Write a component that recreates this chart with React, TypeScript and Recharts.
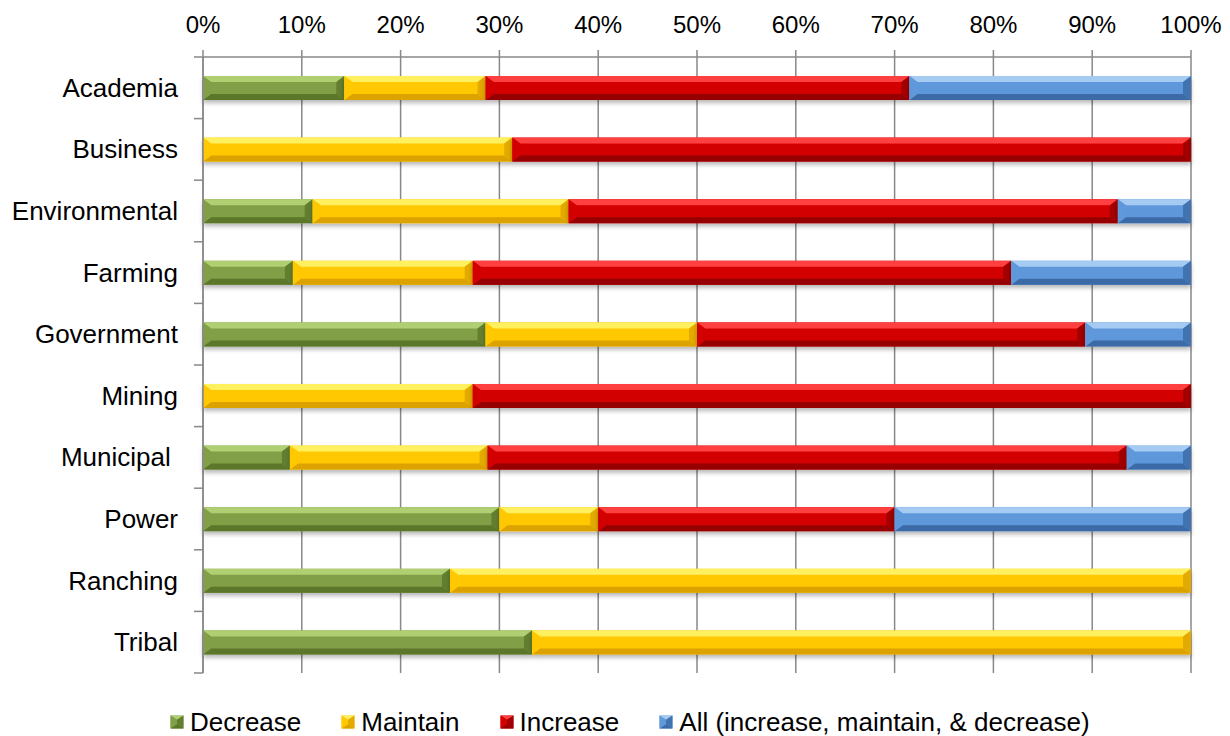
import React from "react";
import {
  BarChart,
  Bar,
  XAxis,
  YAxis,
  CartesianGrid,
} from "recharts";

const categories = [
  "Academia",
  "Business",
  "Environmental",
  "Farming",
  "Government",
  "Mining",
  "Municipal\u00a0",
  "Power",
  "Ranching",
  "Tribal",
];

// shares in percent
const decrease = [14.3, 0, 11.1, 9.1, 28.6, 0, 8.8, 30, 25, 33.3];
const maintain = [14.3, 31.3, 25.9, 18.2, 21.4, 27.3, 20.0, 10, 75, 66.7];
const increase = [42.9, 68.7, 55.6, 54.5, 39.3, 72.7, 64.7, 30, 0, 0];
const all = [28.5, 0, 7.4, 18.2, 10.7, 0, 6.5, 30, 0, 0];

const xTicks = [0, 0.1, 0.2, 0.3, 0.4, 0.5, 0.6, 0.7, 0.8, 0.9, 1];

const data = categories.map((name, i) => ({
  name,
  decrease: decrease[i],
  maintain: maintain[i],
  increase: increase[i],
  all: all[i],
}));

const palette = {
  decrease: { light: "#b0cf72", base: "#809f46", dark: "#5c7629", label: "Decrease" },
  maintain: { light: "#fff060", base: "#ffc800", dark: "#dca200", label: "Maintain" },
  increase: { light: "#ff4040", base: "#d20000", dark: "#960000", label: "Increase" },
  all: { light: "#a6cbf3", base: "#5f98da", dark: "#3b6aa6", label: "All (increase, maintain, & decrease)" },
};

type Colors = { light: string; base: string; dark: string };

const GRID = "#888888";
const FONT = "'Liberation Sans', Arial, sans-serif";
const CHART_W = 1230;
const CHART_H = 690;
const MARGIN = { top: 0, right: 39, left: 0, bottom: 17 };
const X_AXIS_H = 57;
const Y_AXIS_W = 203;
const LABEL_GAP = 25;
const PLOT_H = CHART_H - MARGIN.top - MARGIN.bottom - X_AXIS_H;
const BAND = PLOT_H / categories.length;

function Bevel({ x, y, width, height, c, shadow = true }: any) {
  if (!width || width <= 0) return null;
  const b = Math.min(6, height / 3);
  const bh = Math.min(8, width / 2);
  return (
    <g filter={shadow ? "url(#barShadow)" : undefined}>
      <rect x={x} y={y} width={width} height={height} fill={c.base} />
      <polygon
        points={`${x},${y} ${x + width},${y} ${x + width - bh},${y + b} ${x + bh},${y + b}`}
        fill={c.light}
      />
      <polygon
        points={`${x},${y + height} ${x + width},${y + height} ${x + width - bh},${y + height - b} ${x + bh},${y + height - b}`}
        fill={c.dark}
      />
      <polygon
        points={`${x},${y} ${x + bh},${y + b} ${x + bh},${y + height - b} ${x},${y + height}`}
        fill={c.base}
        opacity={0.85}
      />
      <polygon
        points={`${x + width},${y} ${x + width - bh},${y + b} ${x + width - bh},${y + height - b} ${x + width},${y + height}`}
        fill={c.dark}
        opacity={0.8}
      />
    </g>
  );
}

function CategoryTick({ x, y, payload, index }: any) {
  const axisX = x + LABEL_GAP;
  return (
    <g>
      <text
        x={x}
        y={y}
        textAnchor="end"
        dominantBaseline="central"
        fontSize={26}
        fontFamily={FONT}
        fill="#000"
      >
        {payload.value}
      </text>
      <line x1={axisX - 9} x2={axisX} y1={y - BAND / 2} y2={y - BAND / 2} stroke={GRID} strokeWidth={1.5} />
      {index === categories.length - 1 && (
        <line x1={axisX - 9} x2={axisX} y1={y + BAND / 2} y2={y + BAND / 2} stroke={GRID} strokeWidth={1.5} />
      )}
    </g>
  );
}

function LegendIcon({ c }: { c: Colors }) {
  return (
    <svg width={14} height={14} style={{ marginRight: 6 }}>
      <Bevel x={0.5} y={0.5} width={13} height={13} c={c} shadow={false} />
    </svg>
  );
}

export default function App() {
  const keys = Object.keys(palette) as (keyof typeof palette)[];
  return (
    <div style={{ position: "absolute", top: 0, left: 0, width: CHART_W, height: 736, background: "#fff", fontFamily: FONT }}>
      <svg width={0} height={0} style={{ position: "absolute" }}>
        <defs>
          <filter id="barShadow" x="-5%" y="-30%" width="110%" height="180%">
            <feDropShadow dx={0} dy={3} stdDeviation={2} floodColor="#000" floodOpacity={0.28} />
          </filter>
        </defs>
      </svg>
      <BarChart
        width={CHART_W}
        height={CHART_H}
        data={data}
        layout="vertical"
        stackOffset="expand"
        barSize={24}
        margin={MARGIN}
      >
        <CartesianGrid horizontal={false} stroke={GRID} strokeWidth={1.5} />
        <XAxis
          type="number"
          orientation="top"
          domain={[0, 1]}
          ticks={xTicks}
          height={X_AXIS_H}
          tickFormatter={(v) => `${Math.round(v * 100)}%`}
          tick={{ fontSize: 24, fill: "#000", fontFamily: FONT }}
          tickSize={7}
          tickMargin={17}
          axisLine={{ stroke: GRID, strokeWidth: 1.5 }}
          tickLine={{ stroke: GRID, strokeWidth: 1.5 }}
          interval={0}
        />
        <YAxis
          type="category"
          dataKey="name"
          width={Y_AXIS_W}
          tick={<CategoryTick />}
          tickLine={false}
          tickSize={0}
          tickMargin={LABEL_GAP}
          axisLine={{ stroke: GRID, strokeWidth: 1.5 }}
          interval={0}
        />
        {keys.map((k) => (
          <Bar
            key={k}
            dataKey={k}
            stackId="s"
            isAnimationActive={false}
            shape={(p: any) => <Bevel {...p} c={palette[k]} />}
          />
        ))}
      </BarChart>
      <div
        style={{
          position: "absolute",
          top: 707,
          left: 170,
          display: "flex",
          alignItems: "center",
          fontSize: 26,
          color: "#000",
          lineHeight: "30px",
        }}
      >
        {keys.map((k, i) => (
          <div key={k} style={{ display: "flex", alignItems: "center", marginLeft: i === 0 ? 0 : 40 }}>
            <LegendIcon c={palette[k]} />
            <span>{palette[k].label}</span>
          </div>
        ))}
      </div>
    </div>
  );
}
